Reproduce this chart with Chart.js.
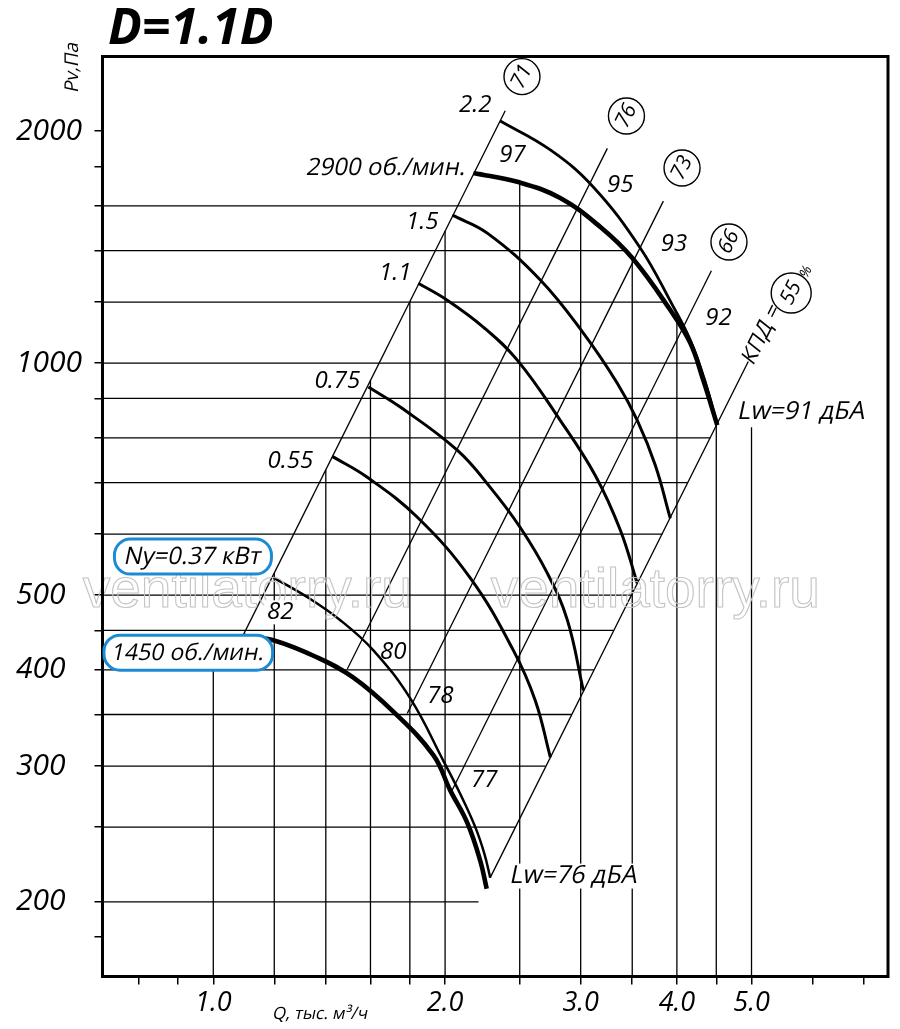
<!DOCTYPE html>
<html>
<head>
<meta charset="utf-8">
<script src="https://cdn.jsdelivr.net/npm/chart.js@4.4.1/dist/chart.umd.min.js"></script>
<style>
html,body{margin:0;padding:0;background:#fff;}
canvas{display:block;}
</style>
</head>
<body>
<canvas id="c" width="900" height="1029"></canvas>
<script>
// ---------- DATA (Q, thousand m3/h ; Pv, Pa) ----------
const titleText = 'D=1.1D';
const xTickVals = [0.8,0.9,1.0,1.2,1.4,1.6,1.8,2.0,2.5,3.0,3.5,4.0,4.5,5.0,6.0,7.0];
const xTickText = ['','','1.0','','','','','2.0','','3.0','','4.0','','5.0','',''];
const yTickVals = [180,200,250,300,350,400,450,500,600,700,800,900,1000,1200,1400,1600,1800,2000];
const yTickText = ['','200','','300','','400','','500','','','','','1000','','','','','2000'];

// grid segments inside the working field
const vGridQ     = [1.0,1.2,1.4,1.6,1.8,2.0,2.5,3.0,3.5,4.0,4.5,5.0];
const vGridTopP  = [400,534,727,950,1202,1484,1716,1571,1369,1137,831,826];
const hGridP     = [1600,1400,1200,1000,900,800,700,600,500,450,400,350,300,250,200];
const hGridEndQ  = [2.92,3.43,3.86,4.26,4.41,4.42,4.13,3.83,3.49,3.31,3.12,2.92,2.70,2.47,2.21];

// system (efficiency) lines: lower and upper ends
const sysText = ['71','76','73','66','55'];
const sysQ0 = [1.094,1.493,1.786,2.031,2.289];
const sysP0 = [444,401,351,276,215];
const sysQ1 = [2.394,3.249,3.841,4.435,4.952];
const sysP1 = [2126,1900,1623,1318,1005];
const circleQ = [2.517,3.44,4.062,4.674,5.63];
const circleP = [2354,2093,1792,1436,1233];

// fan curves
const q2900 = [2.177,2.489,2.822,3.182,3.501,3.922,4.164,4.329,4.513];
const p2900 = [1765,1718,1638,1502,1369,1172,1062,950,831];
const q22   = [2.359,2.740,3.115,3.585,3.946,4.164,4.355,4.513];
const p22   = [2062,1891,1693,1411,1190,1071,945,831];
const q15   = [2.044,2.269,2.659,3.024,3.347,3.553,3.750,3.922];
const p15   = [1556,1475,1282,1094,942,843,737,629];
const q11   = [1.846,2.013,2.242,2.482,2.822,3.134,3.378,3.553];
const p11   = [1270,1207,1114,1009,843,715,607,518];
const q075  = [1.590,1.749,2.074,2.289,2.504,2.715,2.883,3.024];
const p075  = [931,877,771,690,612,534,464,376];
const q055  = [1.427,1.585,1.841,2.157,2.453,2.619,2.740];
const p055  = [757,711,631,526,424,365,308];
const q037  = [1.197,1.325,1.462,1.614,1.803,1.989,2.093,2.189,2.249,2.289];
const p037  = [527,497,464,424,367,305,276,250,231,215];
const q1450 = [1.094,1.197,1.365,1.519,1.713,1.931,2.031,2.138,2.222,2.265];
const p1450 = [443,437,415,391,353,310,279,253,226,208];

// text annotations
const noteText = ['2.2','2900 об./мин.','1.5','1.1','0.75','0.55','97','95','93','92','82','80','78','77','Lw=91 дБА','Lw=76 дБА'];
const noteQ = [2.189,2.131,1.868,1.723,1.449,1.259,2.446,3.376,3.966,4.531,1.222,1.713,1.972,2.249,4.807,2.432];
const noteP = [2163,1792,1525,1309,948,746,1862,1702,1427,1144,475,422,370,288,864,216];
const boxText = ['Ny=0.37 кВт','1450 об./мин.'];
const boxQ = [0.941,0.928];
const boxP = [561,421];
const effText = 'КПД =';
const effQ = 5.16, effP = 1090;
const pctQ = 5.89, pctP = 1313;
const wmText = 'ventilatorry.ru';
const wmQ = [1.107,3.75];
const wmP = [505,505];

// ---------- CHART ----------
const FONT = '"Open Sans", "DejaVu Sans", sans-serif';
const X_MIN = 0.718, X_MAX = 7.52, Y_MIN = 160, Y_MAX = 2500;
const SLANT = -0.21;

const pts = (q, p) => q.map((v, i) => ({x: v, y: p[i]}));
const datasets = [];
vGridQ.forEach((q, i) => datasets.push({data: [{x: q, y: Y_MIN}, {x: q, y: vGridTopP[i]}], borderWidth: 1.3, order: 10}));
hGridP.forEach((p, i) => datasets.push({data: [{x: X_MIN, y: p}, {x: hGridEndQ[i], y: p}], borderWidth: 1.3, order: 10}));
sysQ0.forEach((q, i) => datasets.push({data: [{x: q, y: sysP0[i]}, {x: sysQ1[i], y: sysP1[i]}], borderWidth: 1.3, order: 9}));
[
  [q22, p22, 2.8], [q15, p15, 3], [q11, p11, 3], [q075, p075, 3], [q055, p055, 3],
  [q037, p037, 2.5], [q2900, p2900, 4.6], [q1450, p1450, 4.6]
].forEach(([q, p, w]) => datasets.push({data: pts(q, p), borderWidth: w, tension: 0.4, order: 1}));
datasets.forEach(d => { d.borderColor = '#000'; d.pointRadius = 0; d.fill = false; d.borderCapStyle = 'butt'; });

const isCyr = t => /[а-яА-ЯёЁ]/.test(t);

// text drawing: Latin/digits in true italic, Cyrillic as slanted upright (keeps т, и, д forms)
function drawText(ctx, t, x, y, size, align, baseline, rot) {
  ctx.save();
  ctx.translate(x, y);
  if (rot) ctx.rotate(rot);
  ctx.textAlign = align; ctx.textBaseline = baseline;
  if (isCyr(t)) {
    ctx.transform(1, 0, SLANT, 1, 0, 0);
    ctx.font = `${size}px ${FONT}`;
  } else {
    ctx.font = `italic ${size}px ${FONT}`;
  }
  ctx.fillText(t, 0, 0);
  ctx.restore();
}
function textWidth(ctx, t, size) {
  ctx.font = isCyr(t) ? `${size}px ${FONT}` : `italic ${size}px ${FONT}`;
  return ctx.measureText(t).width;
}

const deco = {
  id: 'deco',
  afterDatasetsDraw(chart) {
    const {ctx, chartArea: ca} = chart;
    const sx = chart.scales.x, sy = chart.scales.y;
    const px = q => sx.getPixelForValue(q), py = p => sy.getPixelForValue(p);
    const ang = -Math.atan(2);
    ctx.save();
    // watermark
    ctx.font = `55px "Liberation Sans", Arial, sans-serif`;
    ctx.textAlign = 'center'; ctx.textBaseline = 'middle';
    ctx.strokeStyle = '#c4c4c4'; ctx.lineWidth = 1.1;
    wmQ.forEach((q, i) => ctx.strokeText(wmText, px(q), py(wmP[i])));

    // frame
    ctx.strokeStyle = '#000'; ctx.lineWidth = 3;
    ctx.strokeRect(ca.left, ca.top, ca.right - ca.left, ca.bottom - ca.top);

    // title
    ctx.fillStyle = '#000';
    ctx.font = `italic bold 50px ${FONT}`;
    ctx.textAlign = 'left'; ctx.textBaseline = 'alphabetic';
    ctx.fillText(titleText, 108, 44);

    // axis titles
    drawText(ctx, 'Pv,Па', 78, 68, 19, 'center', 'alphabetic', -Math.PI / 2);
    drawText(ctx, 'Q, тыс. м³/ч', 272, 1019, 17, 'left', 'alphabetic', 0);

    // curve notes
    noteText.forEach((t, i) => {
      let align = 'center', size = 24, bg = false;
      if (t.startsWith('2900')) { align = 'right'; size = 24; }
      if (t.startsWith('Lw')) { align = 'left'; bg = true; size = 25; }
      if (t === '82') bg = true;
      const x = px(noteQ[i]), y = py(noteP[i]);
      if (bg) {
        const w = textWidth(ctx, t, size);
        const x0 = align === 'left' ? x : align === 'right' ? x - w : x - w / 2;
        ctx.fillStyle = '#fff';
        ctx.fillRect(x0 - 3, y - size * 0.5, w + 8, size);
      }
      ctx.fillStyle = '#000';
      drawText(ctx, t, x, y, size, align, 'middle', 0);
    });

    // boxed notes
    const boxPad = [26, 16];
    boxText.forEach((t, i) => {
      const x = px(boxQ[i]), y = py(boxP[i]);
      const w = textWidth(ctx, t, 23) + boxPad[i], h = 35, r = 16;
      const l = x - w / 2, tp = y - h / 2;
      ctx.beginPath();
      ctx.moveTo(l + r, tp);
      ctx.arcTo(l + w, tp, l + w, tp + h, r);
      ctx.arcTo(l + w, tp + h, l, tp + h, r);
      ctx.arcTo(l, tp + h, l, tp, r);
      ctx.arcTo(l, tp, l + w, tp, r);
      ctx.closePath();
      ctx.fillStyle = '#fff'; ctx.fill();
      ctx.strokeStyle = '#1c8bd6'; ctx.lineWidth = 3; ctx.stroke();
      ctx.fillStyle = '#000';
      drawText(ctx, t, x, y + 1, i === 0 ? 24 : 23, 'center', 'middle', 0);
    });

    // efficiency circles
    sysText.forEach((t, i) => {
      const x = px(circleQ[i]), y = py(circleP[i]);
      const r = i === 4 ? 20 : 18;
      ctx.beginPath(); ctx.arc(x, y, r, 0, Math.PI * 2);
      ctx.fillStyle = '#fff'; ctx.fill();
      ctx.strokeStyle = '#000'; ctx.lineWidth = 1.4; ctx.stroke();
      ctx.fillStyle = '#000';
      drawText(ctx, t, x, y, 21, 'center', 'middle', ang);
    });
    ctx.fillStyle = '#000';
    drawText(ctx, effText, px(effQ), py(effP), 22, 'center', 'middle', ang);
    drawText(ctx, '%', px(pctQ), py(pctP), 14, 'center', 'middle', ang);
    ctx.restore();
  }
};

new Chart(document.getElementById('c'), {
  type: 'line',
  data: {datasets},
  options: {
    responsive: false,
    animation: false,
    layout: {padding: {left: 16, top: 56.5, right: 12, bottom: 0}},
    plugins: {legend: {display: false}, tooltip: {enabled: false}, colors: {enabled: false}},
    scales: {
      x: {
        type: 'logarithmic', min: X_MIN, max: X_MAX, bounds: 'data',
        afterBuildTicks: s => { s.ticks = xTickVals.map(v => ({value: v})); },
        afterFit: s => { s.height = 52.5; },
        border: {display: false},
        grid: {drawOnChartArea: false, drawTicks: true, tickLength: 8, color: '#000', lineWidth: 1.5},
        ticks: {autoSkip: false, maxRotation: 0, minRotation: 0, padding: 3, color: '#000',
                font: {family: FONT, size: 27, style: 'italic'},
                callback: (v, i) => xTickText[i]}
      },
      y: {
        type: 'logarithmic', position: 'left', min: Y_MIN, max: Y_MAX, bounds: 'data',
        afterBuildTicks: s => { s.ticks = yTickVals.map(v => ({value: v})); },
        afterFit: s => { s.width = 86.5; },
        border: {display: false},
        grid: {drawOnChartArea: false, drawTicks: true, tickLength: 8, color: '#000', lineWidth: 1.5},
        ticks: {autoSkip: false, crossAlign: 'far', padding: 6, color: '#000',
                font: {family: FONT, size: 30, style: 'italic'},
                callback: (v, i) => yTickText[i]}
      }
    }
  },
  plugins: [deco]
});
</script>
</body>
</html>
